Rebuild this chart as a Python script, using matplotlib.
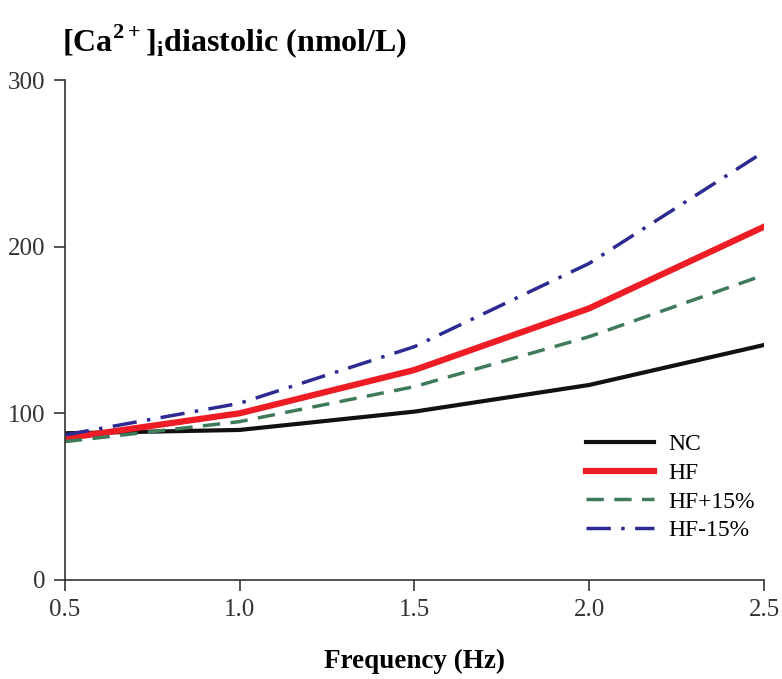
import matplotlib
matplotlib.use("Agg")
import matplotlib.pyplot as plt

# frecuencia de estimulación (Hz) y calcio diastólico (nmol/L)
frecuencia = [0.5, 1.0, 1.5, 2.0, 2.5]
nc = [88, 90, 101, 117, 141]
hf = [85, 100, 126, 163, 212]
hf_mas15 = [83, 95, 116, 146, 183]
hf_menos15 = [87, 106, 140, 190, 257]

plt.rcParams['font.family'] = ['Liberation Serif', 'DejaVu Serif']
plt.rcParams['mathtext.fontset'] = 'custom'
plt.rcParams['mathtext.rm'] = 'Liberation Serif'
plt.rcParams['mathtext.bf'] = 'Liberation Serif:bold'

fig = plt.figure(figsize=(7.82, 6.79), dpi=100)
ax = fig.add_axes([0.083, 0.146, 0.894, 0.736])

ax.plot(frecuencia, nc, color='#111111', lw=3.0, label='NC')
ax.plot(frecuencia, hf, color='#ee1c25', lw=4.5, label='HF')
ax.plot(frecuencia, hf_mas15, color='#3f7a5a', lw=2.5, ls=(0, (5, 3)), label='HF+15%')
ax.plot(frecuencia, hf_menos15, color='#2b2b92', lw=2.5, ls=(0, (7, 3, 1, 3)), label='HF-15%')

ax.set_xlim(0.5, 2.5)
ax.set_ylim(0, 300)
ax.set_xticks(frecuencia)
ax.set_xticklabels(['0.5', '1.0', '1.5', '2.0', '2.5'])
ax.set_yticks([0, 100, 200, 300])
ax.tick_params(labelsize=18, direction='out', length=8, width=1.2,
               colors='#333333', pad=6)
for lado in ['top', 'right']:
    ax.spines[lado].set_visible(False)
for lado in ['left', 'bottom']:
    ax.spines[lado].set_linewidth(1.2)
    ax.spines[lado].set_color('#333333')

ax.set_xlabel('Frequency (Hz)', fontsize=19.5, fontweight='bold', labelpad=20)
fig.text(0.079, 0.94, r'[Ca$^{\mathbf{2+}}$]$_{\mathbf{i}}$diastolic (nmol/L)',
         fontsize=23, fontweight='bold', va='center')

ax.legend(loc='lower right', bbox_to_anchor=(1.018, 0.035), frameon=False,
          fontsize=17, handlelength=2.85, labelspacing=0.3, handletextpad=0.65)

fig.savefig('out.png', dpi=100)
